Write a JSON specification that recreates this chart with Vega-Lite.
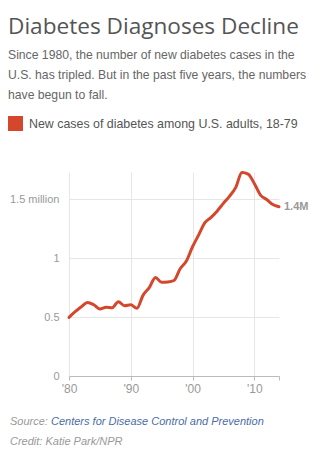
{
  "$schema": "https://vega.github.io/schema/vega-lite/v6.json",
  "width": 210,
  "height": 204,
  "autosize": {"type": "none"},
  "padding": {"left": 69, "top": 172, "right": 46, "bottom": 83},
  "background": "white",
  "title": {
    "text": "Diabetes Diagnoses Decline",
    "subtitle": [
      "Since 1980, the number of new diabetes cases in the",
      "U.S. has tripled. But in the past five years, the numbers",
      "have begun to fall."
    ],
    "anchor": "start",
    "frame": "group",
    "dx": -61,
    "font": "Open Sans",
    "fontSize": 22.6,
    "fontWeight": "normal",
    "color": "#555555",
    "subtitleFont": "Liberation Sans",
    "subtitleFontSize": 12.2,
    "subtitleColor": "#666666",
    "subtitleLineHeight": 20,
    "subtitlePadding": 10,
    "offset": 15
  },
  "config": {"view": {"stroke": null}},
  "datasets": {
    "cases": [
      {"year": 1980, "cases": 0.497},
      {"year": 1981, "cases": 0.545},
      {"year": 1982, "cases": 0.587},
      {"year": 1983, "cases": 0.624},
      {"year": 1984, "cases": 0.604},
      {"year": 1985, "cases": 0.568},
      {"year": 1986, "cases": 0.582},
      {"year": 1987, "cases": 0.579},
      {"year": 1988, "cases": 0.630},
      {"year": 1989, "cases": 0.596},
      {"year": 1990, "cases": 0.604},
      {"year": 1991, "cases": 0.574},
      {"year": 1992, "cases": 0.686},
      {"year": 1993, "cases": 0.750},
      {"year": 1994, "cases": 0.836},
      {"year": 1995, "cases": 0.794},
      {"year": 1996, "cases": 0.797},
      {"year": 1997, "cases": 0.810},
      {"year": 1998, "cases": 0.910},
      {"year": 1999, "cases": 0.975},
      {"year": 2000, "cases": 1.096},
      {"year": 2001, "cases": 1.197},
      {"year": 2002, "cases": 1.300},
      {"year": 2003, "cases": 1.345},
      {"year": 2004, "cases": 1.400},
      {"year": 2005, "cases": 1.464},
      {"year": 2006, "cases": 1.525},
      {"year": 2007, "cases": 1.600},
      {"year": 2008, "cases": 1.726},
      {"year": 2009, "cases": 1.712},
      {"year": 2010, "cases": 1.633},
      {"year": 2011, "cases": 1.534},
      {"year": 2012, "cases": 1.497},
      {"year": 2013, "cases": 1.455},
      {"year": 2014, "cases": 1.435, "label": "1.4M"}
    ],
    "footer": [
      {"part": "Source:", "line": 1},
      {"part": "Centers for Disease Control and Prevention", "line": 1},
      {"part": "Credit: Katie Park/NPR", "line": 2}
    ]
  },
  "layer": [
    {
      "data": {"name": "cases"},
      "mark": {"type": "line", "interpolate": "monotone", "strokeWidth": 3, "strokeCap": "round", "strokeJoin": "round"},
      "encoding": {
        "x": {
          "field": "year",
          "type": "quantitative",
          "scale": {"domain": [1980, 2014], "nice": false, "zero": false},
          "axis": {
            "title": null,
            "values": [1980, 1990, 2000, 2010, 2014],
            "labelExpr": "datum.value == 2014 ? '' : \"'\" + substring(toString(datum.value), 2)",
            "grid": true,
            "gridColor": "#e6e6e6",
            "gridOpacity": {"condition": {"test": "datum.value == 2014", "value": 0}, "value": 1},
            "domainColor": "#bbbbbb",
            "tickColor": "#bbbbbb",
            "tickSize": 4,
            "labelFont": "Liberation Sans",
            "labelFontSize": 12,
            "labelColor": "#999999",
            "labelPadding": 3,
            "labelFlush": false
          }
        },
        "y": {
          "field": "cases",
          "type": "quantitative",
          "scale": {"domain": [0, 1.73], "nice": false},
          "axis": {
            "title": null,
            "values": [0, 0.5, 1, 1.5],
            "labelExpr": "datum.value == 1.5 ? '1.5 million' : toString(datum.value)",
            "domain": false,
            "ticks": false,
            "gridColor": "#e6e6e6",
            "labelFont": "Liberation Sans",
            "labelFontSize": 11,
            "labelColor": "#999999",
            "labelPadding": 10
          }
        },
        "color": {
          "datum": "New cases of diabetes among U.S. adults, 18-79",
          "type": "nominal",
          "scale": {"range": ["#d5472c"]},
          "legend": {
            "title": null,
            "orient": "none",
            "legendX": -61,
            "legendY": -56,
            "symbolType": "square",
            "symbolSize": 225,
            "symbolFillColor": "#d5472c",
            "symbolStrokeWidth": 0,
            "labelFont": "Liberation Sans",
            "labelFontSize": 12.4,
            "labelColor": "#555555",
            "labelOffset": 6,
            "labelLimit": 0,
            "padding": 0
          }
        }
      }
    },
    {
      "data": {"name": "cases"},
      "transform": [{"filter": "datum.label != null"}],
      "mark": {"type": "text", "align": "left", "baseline": "middle", "dx": 5, "font": "Liberation Sans", "fontSize": 11, "fontWeight": "bold", "color": "#999999"},
      "encoding": {
        "x": {"field": "year", "type": "quantitative"},
        "y": {"field": "cases", "type": "quantitative"},
        "text": {"field": "label"}
      }
    },
    {
      "data": {"name": "footer"},
      "transform": [{"filter": "datum.part == 'Source:'"}],
      "mark": {"type": "text", "align": "left", "baseline": "alphabetic", "font": "Liberation Sans", "fontSize": 11, "fontStyle": "italic", "color": "#999999", "x": -59, "y": 253},
      "encoding": {"text": {"field": "part"}}
    },
    {
      "data": {"name": "footer"},
      "transform": [{"filter": "datum.part == 'Centers for Disease Control and Prevention'"}],
      "mark": {"type": "text", "align": "left", "baseline": "alphabetic", "font": "Liberation Sans", "fontSize": 11, "fontStyle": "italic", "color": "#4b6ca6", "x": -18, "y": 253},
      "encoding": {"text": {"field": "part"}}
    },
    {
      "data": {"name": "footer"},
      "transform": [{"filter": "datum.line == 2"}],
      "mark": {"type": "text", "align": "left", "baseline": "alphabetic", "font": "Liberation Sans", "fontSize": 11, "fontStyle": "italic", "color": "#999999", "x": -59, "y": 273},
      "encoding": {"text": {"field": "part"}}
    }
  ]
}
